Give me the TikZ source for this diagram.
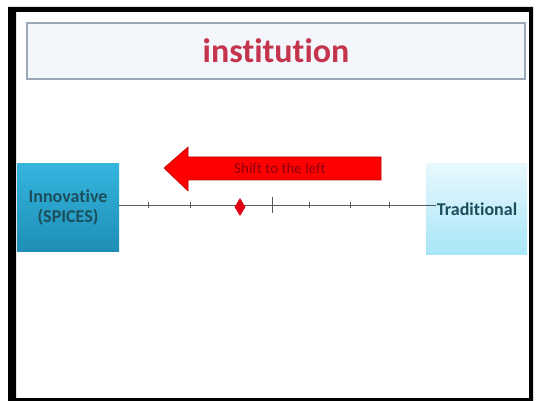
\documentclass[tikz,border=0pt]{standalone}
\usepackage{fontspec}
\setmainfont[Ligatures=NoCommon]{Carlito}
\usetikzlibrary{shapes.geometric}
\definecolor{titlered}{HTML}{C4344C}
\definecolor{titlefill}{HTML}{F3F7FB}
\definecolor{titleline}{HTML}{9AA8B8}
\definecolor{tealtext}{HTML}{1B4F5C}
\definecolor{arrowred}{HTML}{FF0000}
\definecolor{arrowedge}{HTML}{C00000}
\definecolor{arrowtext}{HTML}{8A0010}
\definecolor{innotop}{HTML}{35B5DE}
\definecolor{innobot}{HTML}{1E8EB6}
\definecolor{tradtop}{HTML}{E8F8FD}
\definecolor{tradbot}{HTML}{A8E6F8}
\definecolor{markred}{HTML}{E00010}
\tikzset{
  frameline/.style={fill=black, even odd rule},
  titlebox/.style={draw=titleline, line width=1.5pt, fill=titlefill, minimum width=498pt, minimum height=56pt, inner sep=0pt},
  innobox/.style={top color=innotop, bottom color=innobot, draw=none, minimum width=102pt, minimum height=87pt, inner sep=0pt, align=center, text=tealtext, font=\fontsize{18}{20}\selectfont\bfseries},
  tradbox/.style={top color=tradtop, bottom color=tradbot, draw=none, minimum width=101pt, minimum height=90pt, inner sep=0pt},
  tradlabel/.style={text=tealtext, font=\fontsize{18}{20}\selectfont\bfseries, inner sep=1pt},
  axisline/.style={draw=black!65, line width=0.9pt},
  tickmark/.style={draw=black!65, line width=0.9pt},
  shiftarrow/.style={fill=arrowred, draw=arrowedge, line width=0.6pt},
  marker/.style={diamond, fill=markred, draw=none, minimum width=11pt, minimum height=18pt, inner sep=0pt}
}
\begin{document}
\begin{tikzpicture}[x=1pt, y=-1pt]
\useasboundingbox (0,0) rectangle (536,401);
\fill[white] (0,0) rectangle (536,401);
% slide frame
\path[frameline] (8,7) rectangle (533,401) (16,12) rectangle (529,398);
% title
\node[titlebox] (title) at (276,51) {};
\node[text=titlered, font=\fontsize{34}{38}\selectfont\bfseries] (titletext) at (title.center) {institution};
% boxes
\node[innobox] (inno) at (68,207.5) {Innovative\\(SPICES)};
\node[tradbox] (tradbg) at (476.5,209) {};
\node[tradlabel] (trad) at (477,209) {Traditional};
% axis
\coordinate (a0) at (inno.east |- 0,205);
\coordinate (a1) at (trad.west |- 0,205);
\draw[axisline] (a0) -- (a1);
\foreach \tx in {148,190,309,350,389}
  \draw[tickmark] (\tx,202) -- (\tx,208);
\draw[tickmark] (272,197) -- (272,213);
\node[marker] (mk) at (240,207) {};
% arrow
\draw[shiftarrow] (164,168) -- (188,147) -- (188,157) -- (381,157) -- (381,180) -- (188,180) -- (188,191) -- cycle;
\node[text=arrowtext, font=\fontsize{15}{17}\selectfont] (shift) at (280,168.5) {Shift to the left};
\end{tikzpicture}
\end{document}
